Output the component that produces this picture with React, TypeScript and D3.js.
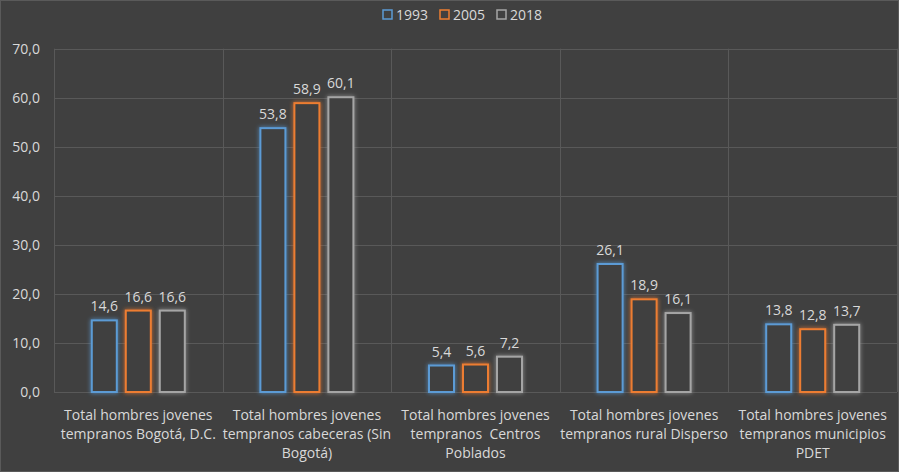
import { useEffect, useRef } from 'react'
import * as d3 from 'd3'

const categories = [
  ['Total hombres jovenes', 'tempranos Bogotá, D.C.'],
  ['Total hombres jovenes', 'tempranos cabeceras (Sin', 'Bogotá)'],
  ['Total hombres jovenes', 'tempranos  Centros', 'Poblados'],
  ['Total hombres jovenes', 'tempranos rural Disperso'],
  ['Total hombres jovenes', 'tempranos municipios', 'PDET'],
]
const seriesNames = ['1993', '2005', '2018']
const values1993 = [14.6, 53.8, 5.4, 26.1, 13.8]
const values2005 = [16.6, 58.9, 5.6, 18.9, 12.8]
const values2018 = [16.6, 60.1, 7.2, 16.1, 13.7]
const colors = ['#5B9BD5', '#ED7D31', '#A5A5A5']
const yTicks = [0, 10, 20, 30, 40, 50, 60, 70]

const W = 899
const H = 472
const FONT = '"Open Sans", sans-serif'

export default function App() {
  const svgRef = useRef<SVGSVGElement>(null)

  useEffect(() => {
    if (!svgRef.current) return
    const svg = d3.select(svgRef.current)
    svg.selectAll('*').remove()

    const series = [values1993, values2005, values2018]
    const margin = { top: 48.7, right: 2, left: 54 }
    const plotRight = W - margin.right
    const plotBottom = 392

    // background
    svg.append('rect').attr('width', W).attr('height', H).attr('fill', '#404040')
    svg.append('rect').attr('x', 0.5).attr('y', 0.5).attr('width', W - 1).attr('height', H - 1)
      .attr('fill', 'none').attr('stroke', '#5a5a5a')

    const defs = svg.append('defs')
    colors.forEach((c, i) => {
      const f = defs.append('filter').attr('id', `glow${i}`)
        .attr('x', '-30%').attr('y', '-30%').attr('width', '160%').attr('height', '160%')
      f.append('feGaussianBlur').attr('in', 'SourceGraphic').attr('stdDeviation', 2).attr('result', 'b')
      const m = f.append('feMerge')
      m.append('feMergeNode').attr('in', 'b')
      m.append('feMergeNode').attr('in', 'SourceGraphic')
    })

    const x = d3.scaleBand<number>()
      .domain(d3.range(categories.length))
      .range([margin.left, plotRight])
      .paddingInner(0)
      .paddingOuter(0)

    const y = d3.scaleLinear().domain([0, 70]).range([plotBottom, margin.top])

    // gridlines
    svg.append('g').selectAll('line').data(yTicks).enter().append('line')
      .attr('x1', margin.left).attr('x2', plotRight)
      .attr('y1', d => Math.round(y(d)) + 0.5).attr('y2', d => Math.round(y(d)) + 0.5)
      .attr('stroke', '#595959').attr('stroke-width', 1)

    svg.append('g').selectAll('line')
      .data(d3.range(categories.length + 1)).enter().append('line')
      .attr('x1', i => Math.round(margin.left + i * x.bandwidth()) + 0.5)
      .attr('x2', i => Math.round(margin.left + i * x.bandwidth()) + 0.5)
      .attr('y1', y(70)).attr('y2', plotBottom)
      .attr('stroke', '#595959').attr('stroke-width', 1)

    // y tick labels
    svg.append('g').selectAll('text').data(yTicks).enter().append('text')
      .attr('x', 40).attr('y', d => y(d) + 5)
      .attr('text-anchor', 'end')
      .attr('fill', '#d9d9d9').attr('font-size', 14).attr('font-family', FONT)
      .text(d => d3.format('.1f')(d).replace('.', ','))

    const barW = 25
    const gap = 9
    const groupW = barW * 3 + gap * 2

    series.forEach((vals, s) => {
      const g = svg.append('g')
      g.selectAll('rect').data(vals).enter().append('rect')
        .attr('x', (_, i) => (x(i) as number) + (x.bandwidth() - groupW) / 2 + s * (barW + gap))
        .attr('y', d => y(d))
        .attr('width', barW)
        .attr('height', d => plotBottom - y(d))
        .attr('fill', '#404040')
        .attr('stroke', colors[s])
        .attr('stroke-width', 2)
        .attr('filter', `url(#glow${s})`)
      g.selectAll('text').data(vals).enter().append('text')
        .attr('x', (_, i) => (x(i) as number) + (x.bandwidth() - groupW) / 2 + s * (barW + gap) + barW / 2)
        .attr('y', d => y(d) - 9)
        .attr('text-anchor', 'middle')
        .attr('fill', '#d9d9d9').attr('font-size', 14).attr('font-family', FONT)
        .text(d => d3.format('.1f')(d).replace('.', ','))
    })

    // category labels
    categories.forEach((lines, i) => {
      const t = svg.append('text')
        .attr('x', (x(i) as number) + x.bandwidth() / 2)
        .attr('y', 420)
        .attr('text-anchor', 'middle')
        .attr('fill', '#d9d9d9').attr('font-size', 14).attr('font-family', FONT)
      lines.forEach((ln, j) => {
        t.append('tspan').attr('x', (x(i) as number) + x.bandwidth() / 2)
          .attr('dy', j === 0 ? 0 : 19)
          .style('white-space', 'pre')
          .text(ln)
      })
    })

    // legend
    const legend = svg.append('g').attr('transform', 'translate(383,15)')
    const itemW = 57
    seriesNames.forEach((n, i) => {
      const lg = legend.append('g').attr('transform', `translate(${i * itemW},0)`)
      lg.append('rect').attr('x', 0).attr('y', -5).attr('width', 9).attr('height', 9)
        .attr('fill', 'none').attr('stroke', colors[i]).attr('stroke-width', 1.5)
      lg.append('text').attr('x', 13).attr('y', 5)
        .attr('fill', '#d9d9d9').attr('font-size', 14).attr('font-family', FONT)
        .text(n)
    })
  }, [])

  return (
    <svg ref={svgRef} width={W} height={H} style={{ display: 'block', position: 'absolute', left: 0, top: 0 }} />
  )
}
